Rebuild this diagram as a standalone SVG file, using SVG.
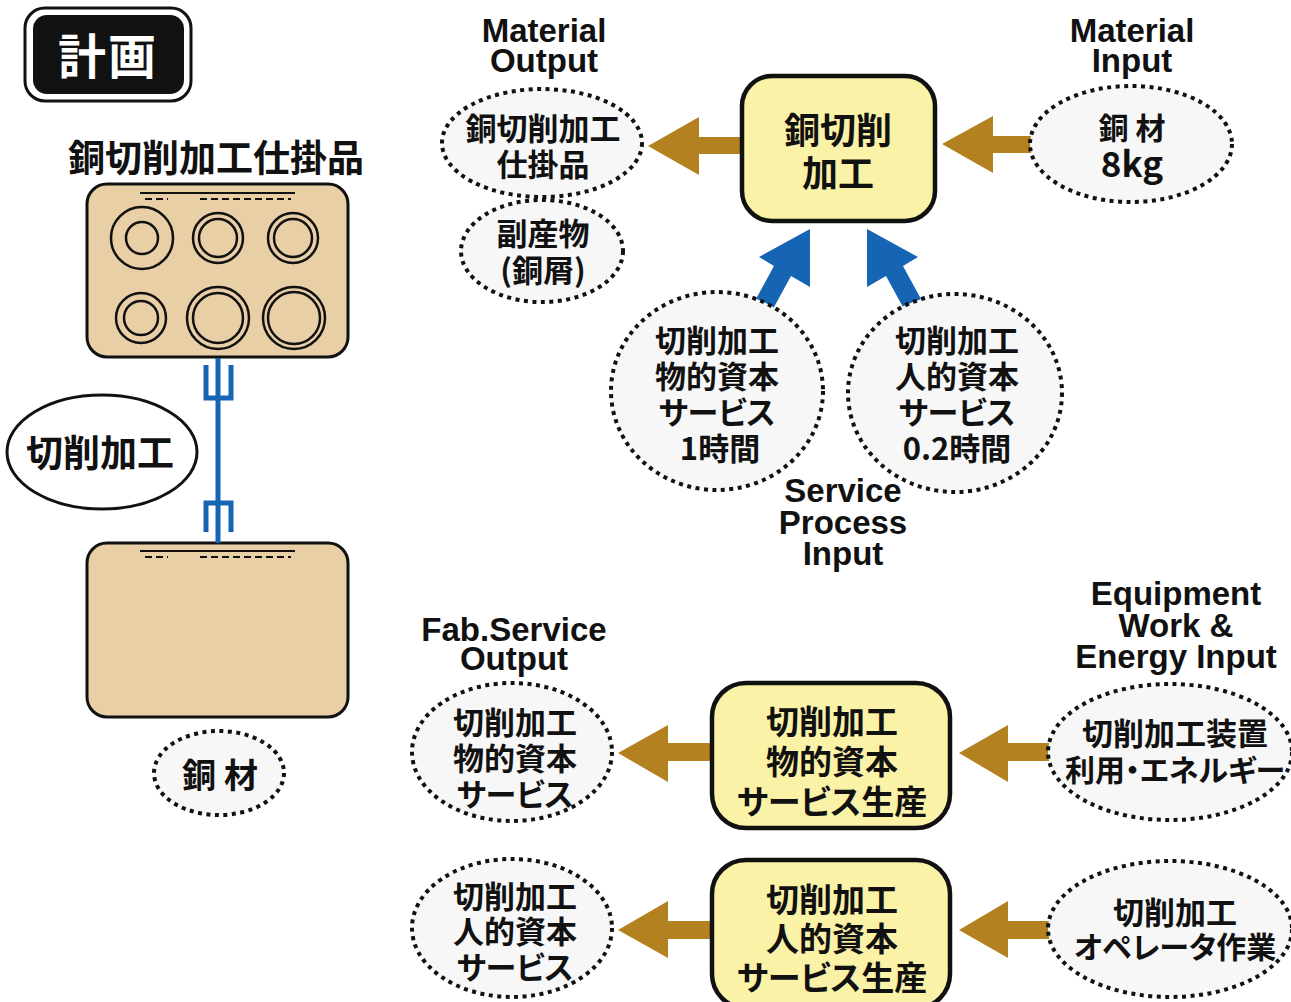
<svg xmlns="http://www.w3.org/2000/svg" width="1291" height="1002" viewBox="0 0 1291 1002">
  <defs>
    <style>
      .jp { font-family: "Noto Sans CJK JP", "Noto Sans", sans-serif; font-weight: 700; fill: #111; text-anchor: middle; }
      .en { font-family: "Liberation Sans", Arial, sans-serif; font-weight: 700; fill: #111; text-anchor: middle; font-size: 33px; }
      .kana { font-feature-settings: "palt"; }
      .dot { fill: #f7f7f7; stroke: #111; stroke-width: 4; stroke-dasharray: 4 4.5; }
      .proc { fill: #faf2a6; stroke: #111; stroke-width: 4.5; }
      .tray { fill: #e9cfa6; stroke: #111; stroke-width: 3; }
      .ring { fill: none; stroke: #111; stroke-width: 2.5; }
      .brown { fill: #b3811f; }
      .blue { fill: #1664b4; }
      .link { fill: none; stroke: #1664b4; stroke-width: 5; }
    </style>
  </defs>

  <rect width="1291" height="1002" fill="#ffffff"/>

  <!-- title badge -->
  <g id="title">
    <rect x="25" y="8" width="166" height="93" rx="20" fill="#ffffff" stroke="#111" stroke-width="3"/>
    <rect x="33" y="15" width="151" height="79" rx="14" fill="#111"/>
    <text class="jp" x="108" y="74" font-size="48" style="fill:#ffffff" letter-spacing="2">計画</text>
  </g>

  <!-- left: work-in-process tray -->
  <g id="wip-tray">
    <text class="jp" x="216" y="172" font-size="37">銅切削加工仕掛品</text>
    <rect class="tray" x="87" y="184" width="261" height="173" rx="20"/>
    <line x1="140" y1="193" x2="295" y2="193" stroke="#111" stroke-width="2"/>
    <line x1="145" y1="199" x2="168" y2="199" stroke="#111" stroke-width="2" stroke-dasharray="7 4"/>
    <line x1="200" y1="199" x2="291" y2="199" stroke="#111" stroke-width="2" stroke-dasharray="7 4"/>
    <circle class="ring" cx="142" cy="238" r="31"/>
    <circle class="ring" cx="142" cy="238" r="16"/>
    <circle class="ring" cx="218" cy="238" r="25"/>
    <circle class="ring" cx="218" cy="238" r="19"/>
    <circle class="ring" cx="293" cy="238" r="25"/>
    <circle class="ring" cx="293" cy="238" r="19"/>
    <circle class="ring" cx="141" cy="318" r="25"/>
    <circle class="ring" cx="141" cy="318" r="17"/>
    <circle class="ring" cx="218" cy="318" r="31"/>
    <circle class="ring" cx="218" cy="318" r="25"/>
    <circle class="ring" cx="294" cy="318" r="31"/>
    <circle class="ring" cx="294" cy="318" r="26"/>
  </g>

  <!-- left: raw material tray -->
  <g id="raw-tray">
    <rect class="tray" x="87" y="543" width="261" height="174" rx="20"/>
    <line x1="140" y1="551" x2="295" y2="551" stroke="#111" stroke-width="2"/>
    <line x1="145" y1="557" x2="168" y2="557" stroke="#111" stroke-width="2" stroke-dasharray="7 4"/>
    <line x1="200" y1="557" x2="291" y2="557" stroke="#111" stroke-width="2" stroke-dasharray="7 4"/>
  </g>

  <g id="cutting-label">
    <ellipse cx="102" cy="452" rx="95" ry="57" fill="#ffffff" stroke="#111" stroke-width="3"/>
    <text class="jp" x="100" y="467" font-size="37">切削加工</text>
  </g>

  <g id="copper-label">
    <ellipse class="dot" cx="219" cy="773" rx="65" ry="42"/>
    <text class="jp" x="224" y="788" font-size="34" letter-spacing="8">銅材</text>
  </g>

  <!-- connectors -->
  <g id="connectors">
    <!-- process link between the two trays -->
    <path class="link" d="M218,358 V543 M206,365 V398 H231 V365 M206,532 V503 H231 V532"/>
    <!-- material flow arrows -->
    <polygon class="brown" points="648,146 699,117 699,137 746,137 746,154 699,154 699,175"/>
    <polygon class="brown" points="942,144 993,116 993,136 1036,136 1036,153 993,153 993,173"/>
    <polygon class="brown" points="618,753 668,725 668,743 716,743 716,761 668,761 668,782"/>
    <polygon class="brown" points="618,930 668,901 668,921 716,921 716,939 668,939 668,958"/>
    <polygon class="brown" points="959,753 1008,725 1008,743 1052,743 1052,761 1008,761 1008,782"/>
    <polygon class="brown" points="959,930 1008,901 1008,921 1052,921 1052,939 1008,939 1008,958"/>
    <!-- service inputs -->
    <polygon class="blue" points="810,229 810,287 791,276 773,309 756,299 774,266 759,257"/>
    <polygon class="blue" points="867,229 867,287 886,276 904,309 921,299 903,266 918,257"/>
  </g>

  <!-- headings -->
  <g id="headings">
    <text class="en" x="544" y="42">Material</text>
    <text class="en" x="544" y="72">Output</text>
    <text class="en" x="1132" y="42">Material</text>
    <text class="en" x="1132" y="72">Input</text>
    <text class="en" x="843" y="502">Service</text>
    <text class="en" x="843" y="534">Process</text>
    <text class="en" x="843" y="565">Input</text>
    <text class="en" x="514" y="641">Fab.Service</text>
    <text class="en" x="514" y="670">Output</text>
    <text class="en" x="1176" y="605">Equipment</text>
    <text class="en" x="1176" y="637">Work &amp;</text>
    <text class="en" x="1176" y="668">Energy Input</text>
  </g>

  <!-- cutting process -->
  <g id="process-cutting">
    <rect class="proc" x="742" y="76" width="193" height="145" rx="30"/>
    <text class="jp" x="838" y="144" font-size="36">銅切削</text>
    <text class="jp" x="838" y="187" font-size="36">加工</text>
  </g>

  <g id="out-wip">
    <ellipse class="dot" cx="542" cy="143" rx="100" ry="54"/>
    <text class="jp" x="543" y="140" font-size="31">銅切削加工</text>
    <text class="jp" x="543" y="176" font-size="31">仕掛品</text>
  </g>

  <g id="out-byproduct">
    <ellipse class="dot" cx="542" cy="251" rx="81" ry="51"/>
    <text class="jp" x="543" y="245" font-size="31">副産物</text>
    <text class="jp" x="543" y="282" font-size="31">(銅屑)</text>
  </g>

  <g id="in-copper">
    <ellipse class="dot" cx="1131" cy="144" rx="101" ry="58"/>
    <text class="jp" x="1132" y="139" font-size="30">銅 材</text>
    <text class="jp" x="1132" y="177" font-size="35">8kg</text>
  </g>

  <g id="in-physical-service">
    <ellipse class="dot" cx="717" cy="391" rx="106" ry="99"/>
    <text class="jp" x="717" y="352" font-size="31">切削加工</text>
    <text class="jp" x="717" y="388" font-size="31">物的資本</text>
    <text class="jp kana" x="717" y="424" font-size="31">サービス</text>
    <text class="jp" x="720" y="460" font-size="31">1時間</text>
  </g>

  <g id="in-human-service">
    <ellipse class="dot" cx="955" cy="393" rx="107" ry="99"/>
    <text class="jp" x="957" y="352" font-size="31">切削加工</text>
    <text class="jp" x="957" y="388" font-size="31">人的資本</text>
    <text class="jp kana" x="957" y="424" font-size="31">サービス</text>
    <text class="jp" x="957" y="460" font-size="31">0.2時間</text>
  </g>

  <!-- physical capital service production -->
  <g id="process-physical">
    <rect class="proc" x="712" y="683" width="238" height="145" rx="34"/>
    <text class="jp" x="832" y="734" font-size="33">切削加工</text>
    <text class="jp" x="832" y="774" font-size="33">物的資本</text>
    <text class="jp kana" x="832" y="814" font-size="33">サービス生産</text>
  </g>

  <g id="process-human">
    <rect class="proc" x="712" y="860" width="238" height="148" rx="34"/>
    <text class="jp" x="832" y="912" font-size="33">切削加工</text>
    <text class="jp" x="832" y="951" font-size="33">人的資本</text>
    <text class="jp kana" x="832" y="990" font-size="33">サービス生産</text>
  </g>

  <g id="out-physical">
    <ellipse class="dot" cx="512" cy="752" rx="100" ry="69"/>
    <text class="jp" x="515" y="734" font-size="31">切削加工</text>
    <text class="jp" x="515" y="770" font-size="31">物的資本</text>
    <text class="jp kana" x="515" y="806" font-size="31">サービス</text>
  </g>

  <g id="out-human">
    <ellipse class="dot" cx="512" cy="928" rx="100" ry="69"/>
    <text class="jp" x="515" y="908" font-size="31">切削加工</text>
    <text class="jp" x="515" y="943" font-size="31">人的資本</text>
    <text class="jp kana" x="515" y="979" font-size="31">サービス</text>
  </g>

  <g id="in-equipment">
    <ellipse class="dot" cx="1170" cy="752" rx="122" ry="68"/>
    <text class="jp" x="1175" y="745" font-size="31">切削加工装置</text>
    <text class="jp kana" x="1175" y="781" font-size="30">利用・エネルギー</text>
  </g>

  <g id="in-operator">
    <ellipse class="dot" cx="1170" cy="929" rx="122" ry="68"/>
    <text class="jp" x="1175" y="924" font-size="31">切削加工</text>
    <text class="jp kana" x="1175" y="958" font-size="30">オペレータ作業</text>
  </g>
</svg>
